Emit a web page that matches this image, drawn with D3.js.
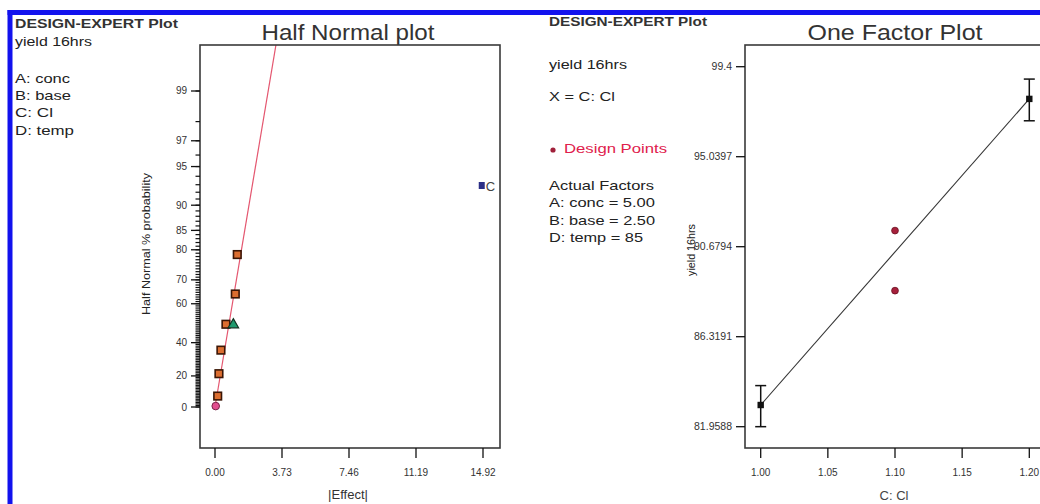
<!DOCTYPE html>
<html>
<head>
<meta charset="utf-8">
<script src="https://cdn.jsdelivr.net/npm/d3@7"></script>
<style>
  html, body { margin: 0; padding: 0; background: #fff; }
  svg { display: block; font-family: 'Liberation Sans', Arial, sans-serif; }
</style>
</head>
<body>
<svg id="chart" width="1040" height="504"></svg>
<script>
// ---- Half Normal plot data ----
var hnPctTicks = [0, 20, 40, 60, 70, 80, 85, 90, 95, 97, 99];
var hnEffectTicks = [0.00, 3.73, 7.46, 11.19, 14.92];
var hnEffects = [0.04, 0.15, 0.22, 0.33, 0.61, 1.02, 1.13, 1.24, 14.85];
var hnPct = [0.6, 7.1, 21.4, 35.7, 50.0, 50.0, 64.3, 78.6, 92.9];
var hnKind = ['pink', 'sq', 'sq', 'sq', 'sq', 'tri', 'sq', 'sq', 'factor'];
var hnLabels = ['', '', '', '', '', '', '', '', 'C'];
var hnLineEffect = [0, 3.40];
var hnLinePct = [0, 99.69];
var hnFactors = ['A: conc', 'B: base', 'C: Cl', 'D: temp'];

// ---- One Factor plot data ----
var ofXTicks = [1.00, 1.05, 1.10, 1.15, 1.20];
var ofYTicks = [81.9588, 86.3191, 90.6794, 95.0397, 99.4];
var ofMeanX = [1.00, 1.20];
var ofMeanY = [83.01, 97.84];
var ofLow = [81.96, 96.78];
var ofHigh = [83.95, 98.80];
var ofDesignX = [1.10, 1.10];
var ofDesignY = [91.46, 88.55];
var ofActual = ['Actual Factors', 'A: conc = 5.00', 'B: base = 2.50', 'D: temp = 85'];

var svg = d3.select('#chart');
var ink = '#222';

// inverse normal CDF (Acklam)
function probit(p) {
    var a = [-39.69683028665376, 220.9460984245205, -275.9285104469687, 138.3577518672690, -30.66479806614716, 2.506628277459239];
    var b = [-54.47609879822406, 161.5858368580409, -155.6989798598866, 66.80131188771972, -13.28068155288572];
    var c = [-0.007784894002430293, -0.3223964580411365, -2.400758277161838, -2.549732539343734, 4.374664141464968, 2.938163982698783];
    var d = [0.007784695709041462, 0.3224671290700398, 2.445134137142996, 3.754408661907416];
    var q, r;
    if (p < 0.02425) {
        q = Math.sqrt(-2 * Math.log(p));
        return (((((c[0]*q+c[1])*q+c[2])*q+c[3])*q+c[4])*q+c[5]) / ((((d[0]*q+d[1])*q+d[2])*q+d[3])*q+1);
    }
    if (p > 1 - 0.02425) {
        q = Math.sqrt(-2 * Math.log(1 - p));
        return -(((((c[0]*q+c[1])*q+c[2])*q+c[3])*q+c[4])*q+c[5]) / ((((d[0]*q+d[1])*q+d[2])*q+d[3])*q+1);
    }
    q = p - 0.5; r = q * q;
    return (((((a[0]*r+a[1])*r+a[2])*r+a[3])*r+a[4])*r+a[5])*q / (((((b[0]*r+b[1])*r+b[2])*r+b[3])*r+b[4])*r+1);
}

function txt(g, s, x, y, opt) {
    opt = opt || {};
    var t = g.append('text').attr('x', x).attr('y', y).text(s)
        .attr('font-size', opt.size || 12)
        .attr('fill', opt.fill || ink)
        .attr('text-anchor', opt.anchor || 'start');
    if (opt.weight) t.attr('font-weight', opt.weight);
    if (opt.len) t.attr('textLength', opt.len).attr('lengthAdjust', 'spacingAndGlyphs');
    if (opt.rotate) t.attr('transform', 'rotate(' + opt.rotate + ',' + x + ',' + y + ')');
    return t;
}

// blue frame
svg.append('rect').attr('x', 7.5).attr('y', 10).attr('width', 1040).attr('height', 5).attr('fill', '#1212ee');
svg.append('rect').attr('x', 7.5).attr('y', 10).attr('width', 5).attr('height', 494).attr('fill', '#1212ee');

// ================= Half Normal plot =================
var L = svg.append('g');
txt(L, 'DESIGN-EXPERT Plot', 15, 28, { size: 12, weight: 'bold', fill: '#333', len: 163 });
txt(L, 'yield 16hrs', 15, 46, { size: 13, len: 77 });
var facW = [55, 56, 38, 59];
hnFactors.forEach(function (s, i) {
    txt(L, s, 15, 83 + i * 17.2, { size: 13, len: facW[i] });
});
txt(L, 'Half Normal plot', 348, 40, { size: 22, anchor: 'middle', fill: '#333', len: 173 });

var hnX = d3.scaleLinear().domain([0, 14.92]).range([215, 483]);
var hnZ = d3.scaleLinear().domain([0, 2.5758]).range([407, 91]);
function hnY(p) { return hnZ(probit((1 + p / 100) / 2)); }
var lb = { x0: 200, x1: 500, y0: 45, y1: 448 };

L.append('clipPath').attr('id', 'hnclip').append('rect')
    .attr('x', lb.x0).attr('y', lb.y0).attr('width', lb.x1 - lb.x0).attr('height', lb.y1 - lb.y0);

// reference line
L.append('line').attr('clip-path', 'url(#hnclip)')
    .attr('x1', hnX(hnLineEffect[0])).attr('y1', hnY(hnLinePct[0]))
    .attr('x2', hnX(hnLineEffect[1])).attr('y2', hnY(hnLinePct[1]))
    .attr('stroke', '#e4566f').attr('stroke-width', 1.2);

// frame
L.append('rect').attr('x', lb.x0).attr('y', lb.y0).attr('width', lb.x1 - lb.x0).attr('height', lb.y1 - lb.y0)
    .attr('fill', 'none').attr('stroke', '#3a3a3a').attr('stroke-width', 1.6);

// y minor ticks
L.selectAll('.hnminor').data(d3.range(0, 100)).enter().append('line')
    .attr('x1', lb.x0 - 4.5).attr('x2', lb.x0)
    .attr('y1', function (d) { return hnY(d); }).attr('y2', function (d) { return hnY(d); })
    .attr('stroke', '#111').attr('stroke-width', 1.2);
// y major ticks
L.selectAll('.hnmajor').data(hnPctTicks).enter().append('line')
    .attr('x1', lb.x0 - 9).attr('x2', lb.x0)
    .attr('y1', function (d) { return hnY(d); }).attr('y2', function (d) { return hnY(d); })
    .attr('stroke', '#111').attr('stroke-width', 1.3);
hnPctTicks.forEach(function (p) {
    txt(L, String(p), 187, hnY(p) + 3.5, { size: 10, anchor: 'end', fill: '#333' });
});
txt(L, 'Half Normal % probability', 150, 244, { size: 11, anchor: 'middle', rotate: -90, len: 142 });

// x ticks
hnEffectTicks.forEach(function (v) {
    L.append('line').attr('x1', hnX(v)).attr('x2', hnX(v)).attr('y1', lb.y1).attr('y2', lb.y1 + 10)
        .attr('stroke', '#111').attr('stroke-width', 1.3);
    txt(L, v.toFixed(2), hnX(v), 476, { size: 10, anchor: 'middle', fill: '#333' });
});
txt(L, '|Effect|', 348, 499, { size: 13, anchor: 'middle', fill: '#333' });

// points
hnEffects.forEach(function (e, i) {
    var x = hnX(e), y = hnY(hnPct[i]), k = hnKind[i];
    if (k === 'sq') {
        L.append('rect').attr('x', x - 3.8).attr('y', y - 3.8).attr('width', 7.6).attr('height', 7.6)
            .attr('fill', '#dc6e30').attr('stroke', '#3b1606').attr('stroke-width', 1.6);
    } else if (k === 'tri') {
        L.append('path').attr('d', d3.symbol().type(d3.symbolTriangle).size(48)())
            .attr('transform', 'translate(' + x + ',' + (y + 0.5) + ')')
            .attr('fill', '#1f9a6e').attr('stroke', '#123322').attr('stroke-width', 1.2);
    } else if (k === 'pink') {
        L.append('circle').attr('cx', x).attr('cy', y).attr('r', 3.8)
            .attr('fill', '#e24d8e').attr('stroke', '#7a2048').attr('stroke-width', 1);
    } else {
        L.append('rect').attr('x', x - 3).attr('y', y - 3.5).attr('width', 6).attr('height', 7)
            .attr('fill', '#2b2f86');
        txt(L, hnLabels[i], x + 4, y + 5, { size: 13, fill: '#444' });
    }
});

// ================= One Factor plot =================
var R = svg.append('g');
txt(R, 'DESIGN-EXPERT Plot', 549, 26, { size: 12, weight: 'bold', fill: '#333', len: 158 });
txt(R, 'yield 16hrs', 549, 69, { size: 13, len: 78 });
txt(R, 'X = C: Cl', 549, 101, { size: 13, len: 66 });
R.append('circle').attr('cx', 553).attr('cy', 150).attr('r', 2.6).attr('fill', '#a0203a');
txt(R, 'Design Points', 564, 153, { size: 13, fill: '#e0204c', len: 103 });
var actW = [105, 106, 106, 94];
ofActual.forEach(function (s, i) {
    txt(R, s, 549, 190 + i * 17.3, { size: 13, len: actW[i] });
});
txt(R, 'One Factor Plot', 895, 40, { size: 22, anchor: 'middle', fill: '#333', len: 175 });

var ofX = d3.scaleLinear().domain([1.00, 1.20]).range([760.7, 1029.3]);
var ofY = d3.scaleLinear().domain([81.9588, 99.4]).range([426.7, 66.7]);
var rb = { x0: 745, x1: 1045, y0: 45, y1: 448 };

R.append('rect').attr('x', rb.x0).attr('y', rb.y0).attr('width', rb.x1 - rb.x0).attr('height', rb.y1 - rb.y0)
    .attr('fill', 'none').attr('stroke', '#3a3a3a').attr('stroke-width', 1.6);

ofYTicks.forEach(function (v) {
    R.append('line').attr('x1', rb.x0 - 9).attr('x2', rb.x0).attr('y1', ofY(v)).attr('y2', ofY(v))
        .attr('stroke', '#111').attr('stroke-width', 1.3);
    txt(R, String(v), 732, ofY(v) + 3.5, { size: 10.5, anchor: 'end', fill: '#333' });
});
ofXTicks.forEach(function (v) {
    R.append('line').attr('x1', ofX(v)).attr('x2', ofX(v)).attr('y1', rb.y1).attr('y2', rb.y1 + 10)
        .attr('stroke', '#111').attr('stroke-width', 1.3);
    txt(R, v.toFixed(2), ofX(v), 476, { size: 10, anchor: 'middle', fill: '#333' });
});
txt(R, 'yield 16hrs', 695, 250, { size: 10.5, anchor: 'middle', rotate: -90, len: 52 });
txt(R, 'C: Cl', 894, 500, { size: 13, anchor: 'middle', fill: '#444' });

// fitted line through means
R.append('path')
    .datum(ofMeanX.map(function (x, i) { return [x, ofMeanY[i]]; }))
    .attr('d', d3.line().x(function (d) { return ofX(d[0]); }).y(function (d) { return ofY(d[1]); }))
    .attr('fill', 'none').attr('stroke', '#333').attr('stroke-width', 1.1);

// error bars and means
ofMeanX.forEach(function (x, i) {
    var cx = ofX(x);
    R.append('line').attr('x1', cx).attr('x2', cx).attr('y1', ofY(ofLow[i])).attr('y2', ofY(ofHigh[i]))
        .attr('stroke', '#111').attr('stroke-width', 1.5);
    [ofLow[i], ofHigh[i]].forEach(function (v) {
        R.append('line').attr('x1', cx - 5.5).attr('x2', cx + 5.5).attr('y1', ofY(v)).attr('y2', ofY(v))
            .attr('stroke', '#111').attr('stroke-width', 1.5);
    });
    R.append('rect').attr('x', cx - 3.2).attr('y', ofY(ofMeanY[i]) - 3.2).attr('width', 6.4).attr('height', 6.4)
        .attr('fill', '#111');
});

// design points
ofDesignX.forEach(function (x, i) {
    R.append('circle').attr('cx', ofX(x)).attr('cy', ofY(ofDesignY[i])).attr('r', 3.4)
        .attr('fill', '#a6203c').attr('stroke', '#6a1020').attr('stroke-width', 0.8);
});
</script>
</body>
</html>
